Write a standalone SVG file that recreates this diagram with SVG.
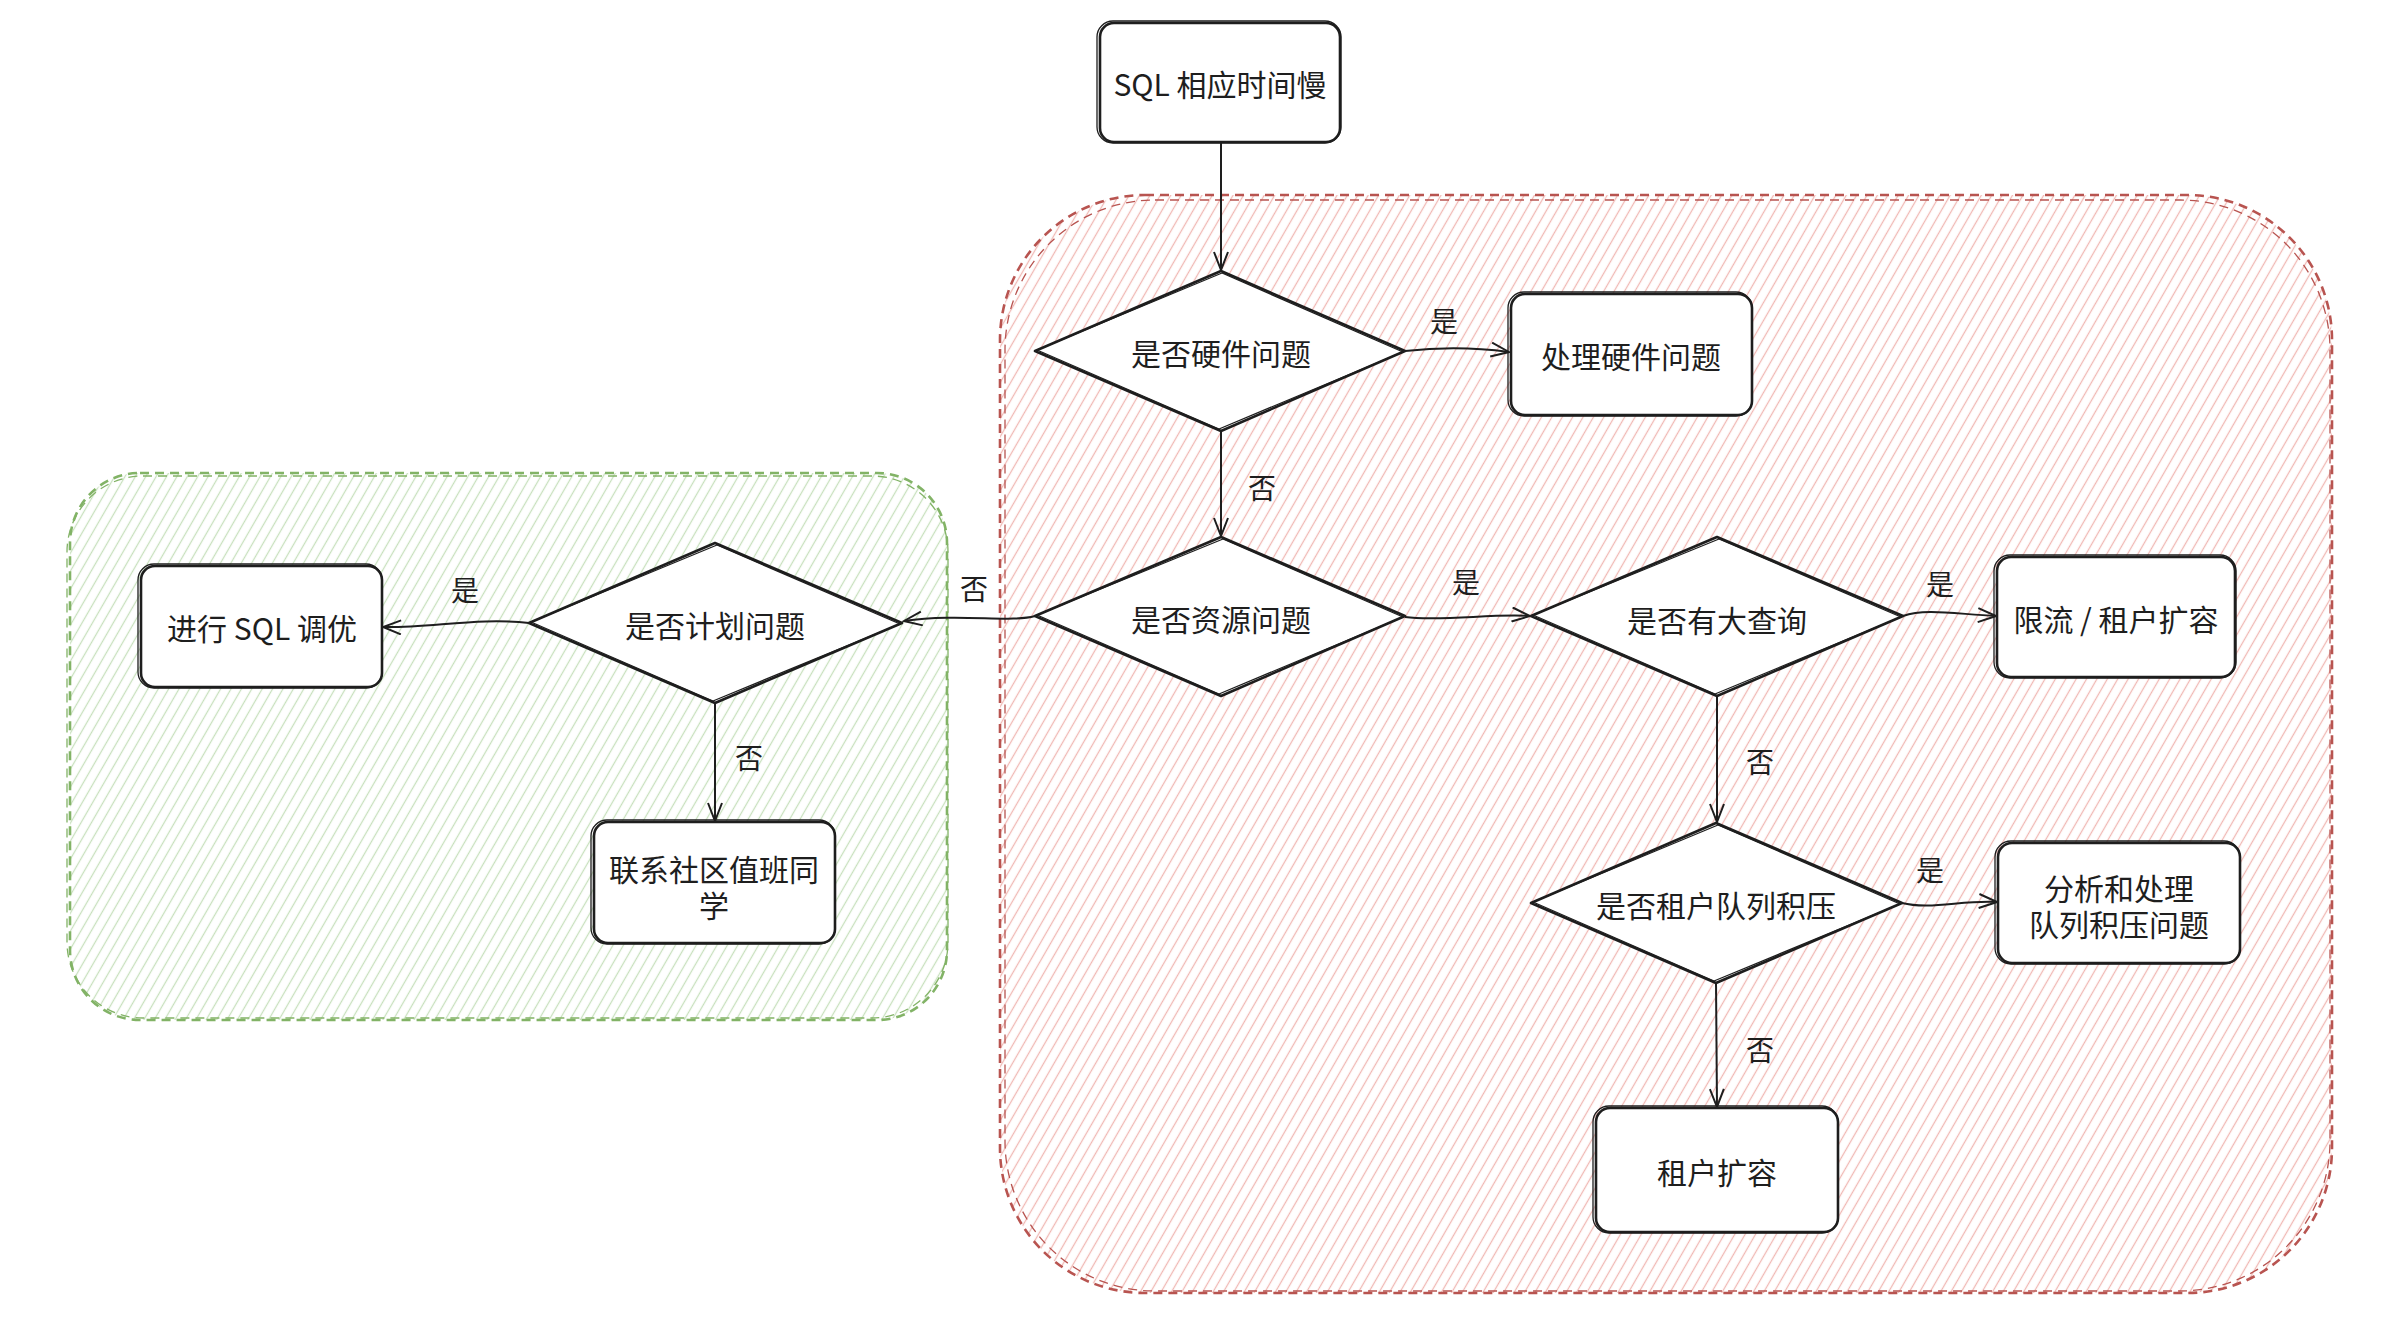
<svg xmlns="http://www.w3.org/2000/svg" width="2388" height="1328" viewBox="0 0 2388 1328">
<style>
.node{fill:#ffffff;stroke:#1e1e1e;stroke-width:2.6;stroke-linejoin:round}
.sk{fill:none;stroke:#1e1e1e;stroke-width:1.3;stroke-linejoin:round}
.t{font-family:"Noto Sans CJK SC","Noto Sans",sans-serif;font-size:30px;fill:#1e1e1e;text-anchor:middle;dominant-baseline:central}
.lbl{font-family:"Noto Sans CJK SC","Noto Sans",sans-serif;font-size:28px;fill:#1e1e1e;text-anchor:middle;dominant-baseline:central}
.edge{fill:none;stroke:#1e1e1e;stroke-width:2;marker-end:url(#arr)}
.redc{fill:url(#hr);stroke:#b85450;stroke-width:2.6;stroke-dasharray:9 6}
.redc2{fill:none;stroke:#b85450;stroke-width:1.3;stroke-dasharray:9 6}
.grnc{fill:url(#hg);stroke:#82b366;stroke-width:2.6;stroke-dasharray:9 6}
.grnc2{fill:none;stroke:#82b366;stroke-width:1.3;stroke-dasharray:9 6}
</style>
<defs>
<pattern id="hr" patternUnits="userSpaceOnUse" width="9" height="9" patternTransform="rotate(30)">
<line x1="4.5" y1="0" x2="4.5" y2="9" stroke="#f0b8b4" stroke-width="1.3"/>
</pattern>
<pattern id="hg" patternUnits="userSpaceOnUse" width="9" height="9" patternTransform="rotate(30)">
<line x1="4.5" y1="0" x2="4.5" y2="9" stroke="#c8e0bd" stroke-width="1.3"/>
</pattern>
<marker id="arr" markerUnits="userSpaceOnUse" markerWidth="22" markerHeight="16" viewBox="0 0 22 16" refX="20" refY="8" orient="auto">
<path d="M2,1 L20,8 L2,15" fill="none" stroke="#1e1e1e" stroke-width="2"/>
</marker>
</defs>
<rect width="2388" height="1328" fill="#ffffff"/>

<g id="container-red">
<rect class="redc" x="1000" y="195" width="1332" height="1098" rx="145"/>
<rect class="redc2" x="1005" y="200" width="1325" height="1091" rx="150"/>
</g>
<g id="container-green">
<rect class="grnc" x="70" y="473" width="877" height="547" rx="70"/>
<rect class="grnc2" x="67" y="476" width="881" height="542" rx="76"/>
</g>

<g id="connectors">
<path class="edge" d="M1221,142 L1221,270"/>
<path class="edge" d="M1405,351 Q1458,345 1509,352"/>
<path class="edge" d="M1221,431 L1221,536"/>
<path class="edge" d="M1405,617 C1440,622 1495,613 1530,616"/>
<path class="edge" d="M1903,616 C1925,608 1955,614 1996,616"/>
<path class="edge" d="M1717,696 L1717,822"/>
<path class="edge" d="M1902,903 C1930,910 1962,900 1997,902"/>
<path class="edge" d="M1716,983 L1717,1107"/>
<path class="edge" d="M1035,616 C1010,623 960,613 904,621"/>
<path class="edge" d="M529,623 C480,617 430,628 383,627"/>
<path class="edge" d="M715,703 L715,821"/>
</g>

<g id="edge-labels">
<text class="lbl" x="1444" y="320">是</text>
<text class="lbl" x="1262" y="487">否</text>
<text class="lbl" x="1466" y="581">是</text>
<text class="lbl" x="1940" y="583">是</text>
<text class="lbl" x="1760" y="761">否</text>
<text class="lbl" x="1930" y="869">是</text>
<text class="lbl" x="1760" y="1049">否</text>
<text class="lbl" x="974" y="588">否</text>
<text class="lbl" x="465" y="589">是</text>
<text class="lbl" x="749" y="757">否</text>
</g>

<g id="n-sql-slow">
<rect class="node" x="1100" y="23" width="240" height="119" rx="14"/>
<rect class="sk" x="1097" y="21" width="244" height="122" rx="16"/>
<text class="t" x="1220" y="83">SQL 相应时间慢</text>
</g>

<g id="n-hw-q">
<polygon class="node" points="1221,271 1405,351 1221,431 1035,351"/>
<polygon class="sk" points="1222,273 1403,352 1219,429 1037,350"/>
<text class="t" x="1221" y="352">是否硬件问题</text>
</g>

<g id="n-hw-fix">
<rect class="node" x="1511" y="294" width="241" height="121" rx="14"/>
<rect class="sk" x="1508" y="292" width="244" height="124" rx="16"/>
<text class="t" x="1631" y="355">处理硬件问题</text>
</g>

<g id="n-res-q">
<polygon class="node" points="1221,537 1405,616 1221,696 1035,616"/>
<polygon class="sk" points="1223,539 1403,617 1219,694 1037,615"/>
<text class="t" x="1221" y="618">是否资源问题</text>
</g>

<g id="n-big-q">
<polygon class="node" points="1717,537 1903,616 1717,696 1531,616"/>
<polygon class="sk" points="1719,539 1901,617 1715,694 1533,615"/>
<text class="t" x="1717" y="619">是否有大查询</text>
</g>

<g id="n-limit">
<rect class="node" x="1997" y="557" width="238" height="120" rx="14"/>
<rect class="sk" x="1994" y="555" width="242" height="123" rx="16"/>
<text class="t" x="2116" y="618">限流 / 租户扩容</text>
</g>

<g id="n-queue-q">
<polygon class="node" points="1716,823 1902,903 1716,983 1531,903"/>
<polygon class="sk" points="1718,825 1900,904 1714,981 1533,902"/>
<text class="t" x="1716" y="904">是否租户队列积压</text>
</g>

<g id="n-queue-fix">
<rect class="node" x="1998" y="843" width="242" height="120" rx="14"/>
<rect class="sk" x="1995" y="841" width="245" height="123" rx="16"/>
<text class="t" x="2119"><tspan x="2119" y="887">分析和处理</tspan><tspan x="2119" y="923">队列积压问题</tspan></text>
</g>

<g id="n-scale">
<rect class="node" x="1596" y="1108" width="242" height="124" rx="14"/>
<rect class="sk" x="1593" y="1106" width="245" height="127" rx="16"/>
<text class="t" x="1717" y="1171">租户扩容</text>
</g>

<g id="n-plan-q">
<polygon class="node" points="715,543 902,623 715,703 529,623"/>
<polygon class="sk" points="717,545 900,624 713,701 531,622"/>
<text class="t" x="715" y="624">是否计划问题</text>
</g>

<g id="n-tune">
<rect class="node" x="141" y="566" width="241" height="121" rx="14"/>
<rect class="sk" x="138" y="564" width="244" height="124" rx="16"/>
<text class="t" x="262" y="627">进行 SQL 调优</text>
</g>

<g id="n-contact">
<rect class="node" x="594" y="822" width="241" height="121" rx="14"/>
<rect class="sk" x="591" y="820" width="244" height="124" rx="16"/>
<text class="t" x="714"><tspan x="714" y="868">联系社区值班同</tspan><tspan x="714" y="904">学</tspan></text>
</g>
</svg>
